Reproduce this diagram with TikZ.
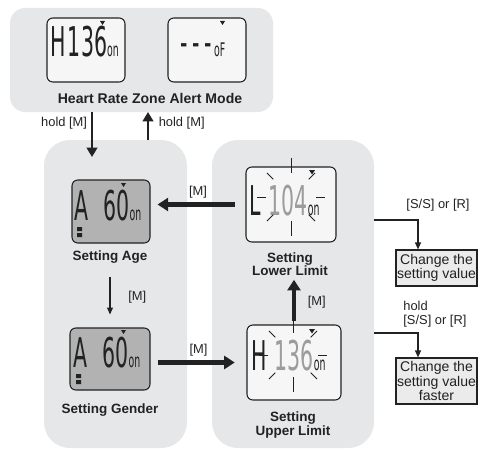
\documentclass[tikz,border=0pt]{standalone}
\usepackage{fontspec}
\setmainfont{Liberation Sans}
\newfontfamily\lcdfont{DejaVu Sans}[FakeStretch=0.5]
\usetikzlibrary{arrows.meta,fit}

\definecolor{panelgray}{HTML}{E6E7E9}
\definecolor{lcdlight}{HTML}{F6F6F6}
\definecolor{lcddark}{HTML}{B2B2B2}
\definecolor{inkgray}{HTML}{222222}
\definecolor{flashgray}{HTML}{9C9C9C}
\definecolor{boxgray}{HTML}{EBEBEB}

\newcommand\bigdig{\lcdfont\fontsize{35}{35}\selectfont}
\newcommand\smalldig{\lcdfont\fontsize{16}{16}\selectfont}

\begin{document}
\begin{tikzpicture}[x=0.03cm, y=-0.03cm,
  panel/.style={fill=panelgray, inner sep=0pt, rounded corners=#1},
  lcd/.style={draw=inkgray, line width=0.9pt, rounded corners=5pt, fill=lcdlight, inner sep=0pt},
  digits/.style={font=\bigdig, text=inkgray, inner sep=0pt, anchor=base west},
  title/.style={font=\bfseries\fontsize{11.5}{11.5}\selectfont, text=inkgray, align=center},
  key/.style={font=\fontsize{11}{11.5}\selectfont, text=inkgray, align=left, inner sep=1pt},
  fat/.style={line width=3.6pt, draw=inkgray, -{Triangle[length=9pt,width=11pt]}},
  mid/.style={line width=2.4pt, draw=inkgray, -{Triangle[length=8pt,width=9pt]}},
  slim/.style={line width=1.2pt, draw=inkgray, -{Triangle[length=6pt,width=5pt]}},
  ray/.style={draw=inkgray, line width=0.8pt},
  result/.style={draw=inkgray, line width=0.9pt, fill=boxgray, align=center,
    font=\fontsize{12}{12}\selectfont, text=inkgray, inner sep=0pt}]

\useasboundingbox (0,0) rectangle (479,450);

% the three grey panels
\node[panel=13pt, fit={(10,8) (273,112)}] (alertPanel) {};
\node[panel=22pt, fit={(44,140) (187,448)}] (agePanel) {};
\node[panel=22pt, fit={(212,140) (374,448)}] (limitPanel) {};

% alert mode displays
\node[lcd, fit={(47,18) (125,82)}] (hrOn) {};
\node[lcd, fit={(168,18) (246,82)}] (hrOff) {};
\node[digits] (hrOnNum) at (50,57) {H\hspace{2pt}136{\smalldig on}};
\node[digits] (hrOffNum) at (180,57) {-\hspace{4pt}-\hspace{4pt}-\hspace{2pt}{\smalldig oF}};
\fill[inkgray] (100,21) -- ++(5,0) -- ++(-2.5,4) -- cycle;
\fill[inkgray] (220,21) -- ++(5,0) -- ++(-2.5,4) -- cycle;
\node[title, font=\bfseries\fontsize{12}{12}\selectfont] (alertTitle) at (150,98) {Heart Rate Zone Alert Mode};

% age / gender
\node[lcd, fill=lcddark, fit={(72,180) (150,243)}] (ageLcd) {};
\node[digits] (ageNum) at (74,220) {A\hspace{13pt}60{\smalldig on}};
\fill[inkgray] (77,227) rectangle (82,231) (77,233) rectangle (82,237);
\fill[inkgray] (121,183) -- ++(5,0) -- ++(-2.5,4) -- cycle;
\node[title] (ageTitle) at (110,257) {Setting Age};

\node[lcd, fill=lcddark, fit={(70,328) (150,390)}] (genderLcd) {};
\node[digits] (genderNum) at (73,367) {A\hspace{13pt}60{\smalldig on}};
\fill[inkgray] (76,374) rectangle (81,378) (76,380) rectangle (81,384);
\fill[inkgray] (121,330) -- ++(5,0) -- ++(-2.5,4) -- cycle;
\node[title] (genderTitle) at (110,410) {Setting Gender};

% lower / upper limit
\node[lcd, fit={(246,167) (336,242)}] (lowerLcd) {};
\node[digits] (lowerNum) at (249,215) {L\hspace{7pt}{\color{flashgray}104}{\smalldig on}};
\fill[inkgray] (309,170) -- ++(6,0) -- ++(-3,4.5) -- cycle;
\coordinate (lowerRays) at (291,197);
\foreach \a in {0,45,135,180,225,315}
  \draw[ray] (lowerRays) ++(\a:25) -- ++(\a:9);
\foreach \a in {90,270}
  \draw[ray] (lowerRays) ++(\a:24) -- ++(\a:15);
\node[title] (lowerTitle) at (290,264) {Setting\\Lower Limit};

\node[lcd, fit={(247,325) (341,400)}] (upperLcd) {};
\node[digits] (upperNum) at (251,370) {H\hspace{7pt}{\color{flashgray}136}{\smalldig on}};
\fill[inkgray] (309,329) -- ++(6,0) -- ++(-3,4.5) -- cycle;
\coordinate (upperRays) at (293,355);
\foreach \a in {0,45,135,180,225,315}
  \draw[ray] (upperRays) ++(\a:25) -- ++(\a:9);
\foreach \a in {90,270}
  \draw[ray] (upperRays) ++(\a:22) -- ++(\a:15);
\node[title] (upperTitle) at (293,425) {Setting\\Upper Limit};

% hold [M] in and out of alert mode
\coordinate (holdIn) at (92,112);
\coordinate (holdInEnd) at (92,157);
\coordinate (holdOut) at (148,140);
\coordinate (holdOutEnd) at (148,112);
\draw[mid] (holdIn) -- (holdInEnd) node[key, pos=0.25, left=2pt] {hold [M]};
\draw[mid] (holdOut) -- (holdOutEnd) node[key, pos=0.6, right=7pt] {hold [M]};

% [M] steps
\draw[slim, shorten <=8pt, shorten >=11pt] (ageTitle.south) -- (ageTitle.south |- genderLcd.north)
  node[key, midway, right=14pt] {[M]};
\draw[fat, shorten <=6pt, shorten >=10pt] (genderLcd.east |- upperLcd.west) -- (upperLcd.west)
  node[key, midway, above=3pt] {[M]};
\draw[fat, shorten <=3pt] (upperLcd.north) -- (upperLcd.north |- lowerTitle.south)
  node[key, midway, right=9pt] {[M]};
\draw[fat, shorten <=9pt, shorten >=6pt] (lowerLcd.west) -- (lowerLcd.west -| ageLcd.east)
  node[key, midway, above=3pt] {[M]};

% changing the value
\node[result, minimum width=81*0.03cm, minimum height=36*0.03cm] (changeBox) at (436.5,268) {Change the\\setting value};
\node[result, minimum width=81*0.03cm, minimum height=46*0.03cm] (fasterBox) at (436.5,381) {Change the\\setting value\\faster};
\coordinate (changeTurn) at (418,220);
\coordinate (fasterTurn) at (418,333);
\draw[slim] (limitPanel.east |- changeTurn) -- (changeTurn) -- (changeTurn |- changeBox.north);
\draw[slim] (limitPanel.east |- fasterTurn) -- (fasterTurn) -- (fasterTurn |- fasterBox.north);
\node[key] (changeKey) at (438,205) {[S/S] or [R]};
\node[key, anchor=west] (fasterKey) at (402,314) {hold\\{[S/S] or [R]}};
\end{tikzpicture}
\end{document}
